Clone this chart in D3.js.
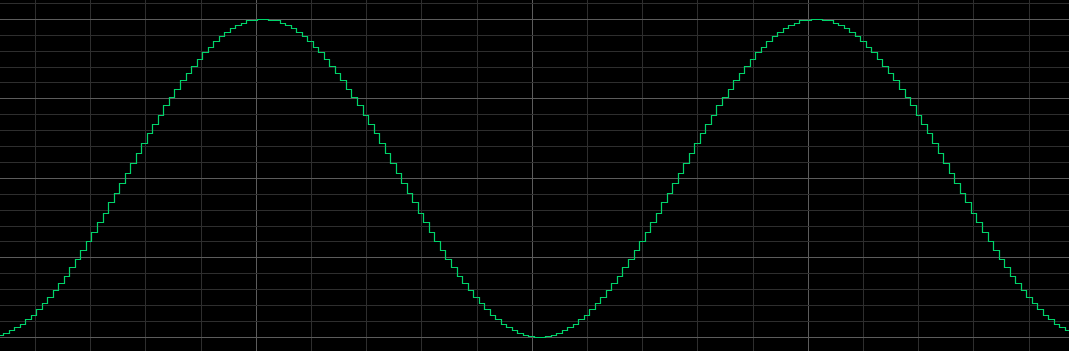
<!DOCTYPE html>
<html>
<head>
<meta charset="utf-8">
<script src="https://cdn.jsdelivr.net/npm/d3@7"></script>
<style>
  html, body { margin: 0; padding: 0; background: #000; overflow: hidden; }
  svg { display: block; }
</style>
</head>
<body>
<div id="scope"></div>
<script>
const samples = [
  -1.98, -1.95, -1.92, -1.88, -1.84, -1.78, -1.72, -1.65, -1.58, -1.50,
  -1.41, -1.32, -1.23, -1.12, -1.02, -0.91, -0.79, -0.68, -0.56, -0.44,
  -0.31, -0.19, -0.06, 0.06, 0.19, 0.31, 0.44, 0.56, 0.68, 0.79,
  0.91, 1.02, 1.12, 1.23, 1.32, 1.41, 1.50, 1.58, 1.65, 1.72,
  1.78, 1.84, 1.88, 1.92, 1.95, 1.98, 1.99, 2.00, 2.00, 1.99,
  1.98, 1.95, 1.92, 1.88, 1.84, 1.78, 1.72, 1.65, 1.58, 1.50,
  1.41, 1.32, 1.23, 1.12, 1.02, 0.91, 0.79, 0.68, 0.56, 0.44,
  0.31, 0.19, 0.06, -0.06, -0.19, -0.31, -0.44, -0.56, -0.68, -0.79,
  -0.91, -1.02, -1.12, -1.23, -1.32, -1.41, -1.50, -1.58, -1.65, -1.72,
  -1.78, -1.84, -1.88, -1.92, -1.95, -1.98, -1.99, -2.00, -2.00, -1.99,
  -1.98, -1.95, -1.92, -1.88, -1.84, -1.78, -1.72, -1.65, -1.58, -1.50,
  -1.41, -1.32, -1.23, -1.12, -1.02, -0.91, -0.79, -0.68, -0.56, -0.44,
  -0.31, -0.19, -0.06, 0.06, 0.19, 0.31, 0.44, 0.56, 0.68, 0.79,
  0.91, 1.02, 1.12, 1.23, 1.32, 1.41, 1.50, 1.58, 1.65, 1.72,
  1.78, 1.84, 1.88, 1.92, 1.95, 1.98, 1.99, 2.00, 2.00, 1.99,
  1.98, 1.95, 1.92, 1.88, 1.84, 1.78, 1.72, 1.65, 1.58, 1.50,
  1.41, 1.32, 1.23, 1.12, 1.02, 0.91, 0.79, 0.68, 0.56, 0.44,
  0.31, 0.19, 0.06, -0.06, -0.19, -0.31, -0.44, -0.56, -0.68, -0.79,
  -0.91, -1.02, -1.12, -1.23, -1.32, -1.41, -1.50, -1.58, -1.65, -1.72,
  -1.78, -1.84, -1.88, -1.92
];
// time of first sample and sample period, in grid divisions
const sampleStart = -0.68;
const samplePeriod = 0.1002;

// grid divisions (time / volts)
const timeDivisions = d3.range(-1, 20);      // vertical lines
const voltDivisions = d3.range(-10, 12).map(d => d / 5); // horizontal lines

const width = 1069, height = 351;

const svg = d3.select('#scope').append('svg')
  .attr('width', width)
  .attr('height', height);

svg.append('rect')
  .attr('width', width)
  .attr('height', height)
  .attr('fill', '#000');

// scales
const x = d3.scaleLinear().domain([0, 1]).range([35.5, 90.7]);
const y = d3.scaleLinear().domain([-2, 2]).range([337.3, 19.3]);

// grid: minor lines first, major lines (every 5) on top
const grid = svg.append('g').attr('id', 'grid');

const isMajorT = t => (t - 4) % 5 === 0;
const isMajorV = v => Math.abs(Math.round(v * 5)) % 5 === 0;

const vLines = timeDivisions.slice().sort((a, b) => isMajorT(a) - isMajorT(b));
grid.selectAll('line.v')
  .data(vLines)
  .join('line')
  .attr('class', 'v')
  .attr('x1', d => Math.floor(x(d)) + 0.5)
  .attr('x2', d => Math.floor(x(d)) + 0.5)
  .attr('y1', 0)
  .attr('y2', height)
  .attr('stroke', d => isMajorT(d) ? '#5c5c5c' : '#2e2e2e')
  .attr('stroke-width', 1);

const hLines = voltDivisions.slice().sort((a, b) => isMajorV(a) - isMajorV(b));
grid.selectAll('line.h')
  .data(hLines)
  .join('line')
  .attr('class', 'h')
  .attr('x1', 0)
  .attr('x2', width)
  .attr('y1', d => Math.floor(y(d)) + 0.5)
  .attr('y2', d => Math.floor(y(d)) + 0.5)
  .attr('stroke', d => isMajorV(d) ? '#5c5c5c' : '#2e2e2e')
  .attr('stroke-width', 1);

// trace: sample-and-hold, so step after each sample
const points = samples.map((v, i) => [sampleStart + i * samplePeriod, v]);
points.push([sampleStart + samples.length * samplePeriod, samples[samples.length - 1]]);

const line = d3.line()
  .x(d => Math.floor(x(d[0])) + 0.5)
  .y(d => Math.floor(y(d[1])) + 0.5)
  .curve(d3.curveStepAfter);

svg.append('path')
  .datum(points)
  .attr('fill', 'none')
  .attr('stroke', '#00d46a')
  .attr('stroke-width', 1.2)
  .attr('d', line);
</script>
</body>
</html>
